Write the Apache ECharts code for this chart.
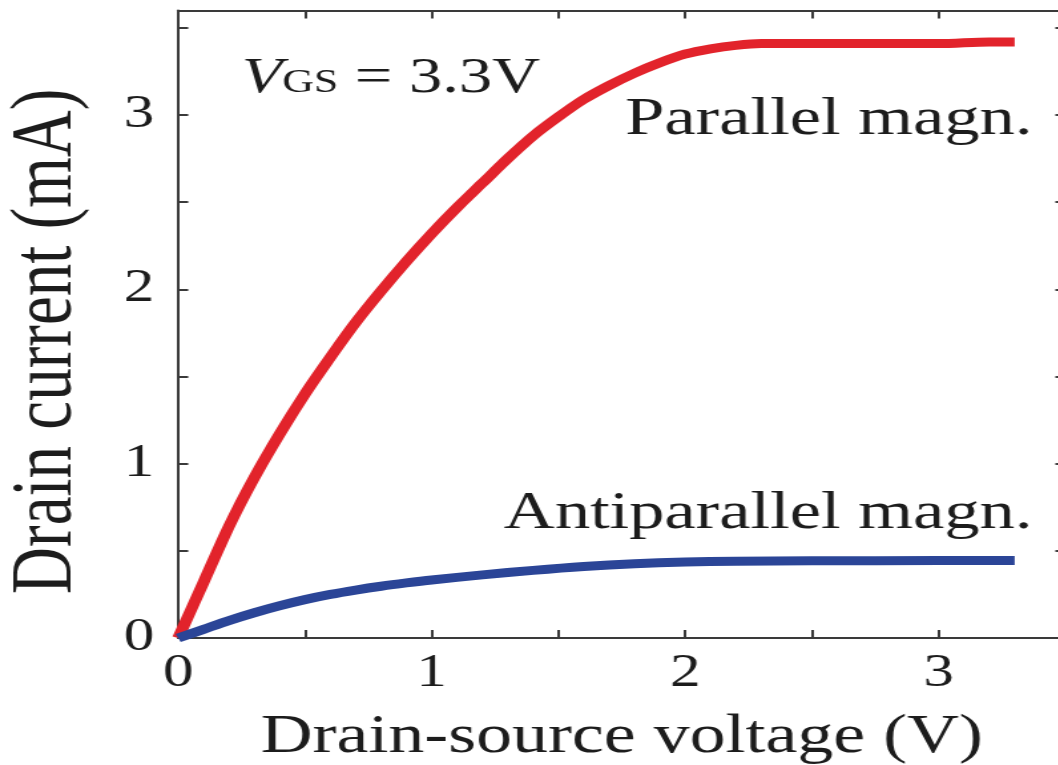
<!DOCTYPE html>
<html>
<head>
<meta charset="utf-8">
<script src="https://cdn.jsdelivr.net/npm/echarts@6/dist/echarts.min.js"></script>
<style>
  html, body { margin: 0; padding: 0; background: #fff; overflow: hidden; width: 1058px; height: 765px; }
  /* the figure is typeset on a narrower canvas and widened horizontally */
  #main { width: 796px; height: 765px; transform: scaleX(1.33); transform-origin: 0 0; }
</style>
</head>
<body>
<div id="main"></div>
<script>
// Drain current vs drain-source voltage, V_GS = 3.3 V
const parallelVoltage = [0, 0.1, 0.2, 0.3, 0.4, 0.5, 0.6, 0.7, 0.8, 0.9, 1.0, 1.1, 1.2, 1.3, 1.4, 1.5, 1.6, 1.7, 1.8, 1.9, 2.0, 2.1, 2.2, 2.3, 2.4, 2.6, 2.8, 3.0, 3.2, 3.3];
const parallelCurrent = [0, 0.32, 0.64, 0.92, 1.17, 1.40, 1.61, 1.81, 1.99, 2.16, 2.32, 2.47, 2.61, 2.75, 2.88, 2.99, 3.09, 3.17, 3.24, 3.30, 3.35, 3.38, 3.40, 3.41, 3.41, 3.41, 3.41, 3.41, 3.42, 3.42];

const antiVoltage = [0, 0.1, 0.2, 0.3, 0.4, 0.5, 0.6, 0.7, 0.8, 0.9, 1.0, 1.2, 1.4, 1.6, 1.8, 2.0, 2.2, 2.5, 3.0, 3.3];
const antiCurrent = [0, 0.05, 0.10, 0.145, 0.185, 0.22, 0.25, 0.275, 0.297, 0.316, 0.333, 0.362, 0.388, 0.41, 0.426, 0.436, 0.441, 0.443, 0.444, 0.444];

const xAxisName = 'Drain-source voltage (V)';
const yAxisName = 'Drain current (mA)';
const parallelLabel = 'Parallel magn.';
const antiLabel = 'Antiparallel magn.';

const SERIF = "'Liberation Serif', 'Times New Roman', serif";
const INK = '#1c1c1c';
const AXIS = '#3a3a3a';

const pairs = (xs, ys) => xs.map((x, i) => [x, ys[i]]);
const integerOnly = v => (Math.abs(v - Math.round(v)) < 1e-9 ? String(Math.round(v)) : '');

const frameAxis = (extra) => Object.assign({
  type: 'value',
  min: 0,
  interval: 0.5,
  axisLine: { show: true, onZero: false, lineStyle: { color: AXIS, width: 2 } },
  axisTick: { show: true, inside: true, length: 8, lineStyle: { color: AXIS, width: 2 } },
  splitLine: { show: false },
  axisLabel: { show: false }
}, extra);

const labelStyle = { fontFamily: SERIF, fontSize: 53, color: INK };

const chart = echarts.init(document.getElementById('main'), null, { renderer: 'canvas' });

chart.setOption({
  animation: false,
  backgroundColor: '#fff',
  grid: { left: 134, top: 10.5, width: 667, height: 627.5, containLabel: false, outerBoundsMode: 'none' },
  xAxis: [
    frameAxis({
      position: 'bottom',
      max: 3.5,
      axisLabel: { show: true, formatter: integerOnly, fontFamily: SERIF, fontSize: 46, color: INK, margin: 13 },
      name: xAxisName,
      nameLocation: 'middle',
      nameGap: 73,
      nameTextStyle: { fontFamily: SERIF, fontSize: 54, color: INK }
    }),
    frameAxis({ position: 'top', max: 3.5 })
  ],
  yAxis: [
    frameAxis({
      position: 'left',
      max: 3.6,
      axisTick: { show: true, inside: true, length: 7.5, lineStyle: { color: AXIS, width: 2 } },
      axisLabel: { show: true, formatter: integerOnly, fontFamily: SERIF, fontSize: 46, color: INK, margin: 18 },
      name: yAxisName,
      nameLocation: 'middle',
      nameRotate: 90,
      nameGap: 66,
      nameTextStyle: { fontFamily: SERIF, fontSize: 65, color: INK, padding: [0, 34, 0, 0] }
    }),
    frameAxis({
      position: 'right',
      max: 3.6,
      axisTick: { show: true, inside: true, length: 7.5, lineStyle: { color: AXIS, width: 2 } }
    })
  ],
  series: [
    {
      name: parallelLabel,
      type: 'line',
      xAxisIndex: 0,
      yAxisIndex: 0,
      data: pairs(parallelVoltage, parallelCurrent),
      smooth: 0.3,
      showSymbol: false,
      clip: false,
      lineStyle: { color: '#e2232b', width: 9, cap: 'butt' },
      markPoint: {
        symbol: 'circle',
        symbolSize: 0,
        silent: true,
        data: [
          {
            coord: [3.37, 2.97],
            label: {
              show: true, position: [0, 0], align: 'right', verticalAlign: 'middle',
              formatter: parallelLabel, ...labelStyle
            }
          },
          {
            coord: [0.25, 3.21],
            label: {
              show: true, position: [0, 0], align: 'left', verticalAlign: 'middle',
              formatter: '{v|V}{s|GS}{n| = 3.3V}',
              rich: {
                v: { fontFamily: SERIF, fontStyle: 'italic', fontSize: 50, color: INK, verticalAlign: 'bottom' },
                s: { fontFamily: SERIF, fontSize: 33, color: INK, verticalAlign: 'bottom', padding: [0, 0, 4, 0] },
                n: { fontFamily: SERIF, fontSize: 50, color: INK, verticalAlign: 'bottom' }
              }
            }
          }
        ]
      }
    },
    {
      name: antiLabel,
      type: 'line',
      xAxisIndex: 0,
      yAxisIndex: 0,
      data: pairs(antiVoltage, antiCurrent),
      smooth: 0.3,
      showSymbol: false,
      clip: false,
      lineStyle: { color: '#2b4597', width: 9, cap: 'butt' },
      markPoint: {
        symbol: 'circle',
        symbolSize: 0,
        silent: true,
        data: [
          {
            coord: [3.37, 0.71],
            label: {
              show: true, position: [0, 0], align: 'right', verticalAlign: 'middle',
              formatter: antiLabel, ...labelStyle
            }
          }
        ]
      }
    }
  ]
});
</script>
</body>
</html>
